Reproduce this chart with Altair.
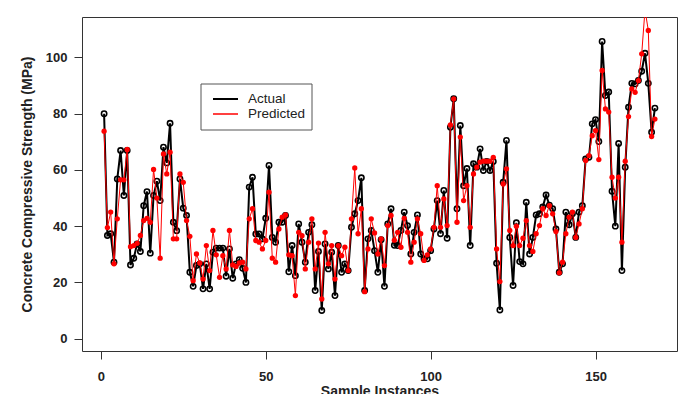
import altair as alt
import pandas as pd

# Measured and model-predicted compressive strength (MPa) per test sample
actual = [
    80.0, 36.7, 37.3, 27.2, 56.8, 66.9, 50.9, 66.9, 26.2, 28.6,
    33.7, 31.0, 47.3, 52.3, 30.4, 50.9, 56.0, 49.1, 68.1, 62.5,
    76.6, 41.4, 38.4, 56.8, 46.4, 43.8, 23.6, 18.6, 26.0, 26.6,
    17.7, 26.6, 17.7, 30.7, 32.2, 32.2, 32.2, 22.2, 31.9, 21.5,
    26.6, 28.1, 25.0, 20.0, 53.9, 57.4, 37.2, 37.2, 35.5, 42.8,
    61.6, 36.0, 34.3, 41.4, 41.4, 43.8, 23.8, 33.1, 22.4, 40.8,
    34.3, 27.2, 37.8, 40.5, 17.1, 31.0, 10.0, 33.7, 24.8, 30.7,
    15.3, 33.1, 23.6, 26.6, 24.2, 39.6, 44.4, 49.1, 57.2, 17.1,
    35.5, 38.5, 31.3, 23.6, 35.2, 18.6, 40.8, 46.2, 33.2, 33.1,
    38.5, 45.0, 40.2, 30.1, 37.8, 44.0, 30.1, 28.4, 28.4, 31.3,
    39.0, 49.1, 37.3, 52.7, 35.7, 75.2, 85.3, 46.2, 75.8, 54.4,
    60.5, 33.1, 62.2, 61.0, 67.5, 59.8, 63.0, 59.8, 63.0, 26.8,
    10.2, 55.6, 70.5, 36.0, 18.9, 41.2, 27.4, 26.6, 48.5, 30.1,
    36.0, 44.0, 44.4, 46.8, 51.1, 47.5, 46.2, 39.0, 23.6, 26.6,
    45.0, 40.5, 44.4, 36.0, 45.0, 47.3, 63.9, 64.5, 76.4, 77.9,
    70.1, 105.7, 86.5, 87.7, 52.4, 40.0, 69.4, 24.2, 61.0, 82.3,
    90.8, 90.6, 91.8, 95.1, 101.5, 90.8, 73.4, 82.0,
]
predicted = [
    73.8, 39.5, 45.0, 26.6, 42.6, 56.5, 56.5, 67.3, 32.7, 33.1,
    33.9, 36.7, 42.0, 42.8, 41.4, 60.2, 50.0, 28.6, 65.7, 58.6,
    66.3, 35.5, 35.5, 58.6, 55.6, 42.0, 36.4, 20.6, 30.1, 26.9,
    21.2, 33.1, 24.2, 38.5, 29.8, 21.8, 29.5, 24.8, 38.5, 26.2,
    25.7, 26.9, 27.2, 24.8, 42.6, 46.2, 34.9, 34.3, 31.9, 34.9,
    52.1, 28.6, 27.2, 39.0, 43.2, 44.0, 29.8, 29.5, 15.3, 37.8,
    36.6, 24.8, 34.3, 42.6, 24.8, 34.0, 14.1, 37.8, 26.6, 33.1,
    21.2, 33.1, 29.5, 32.5, 24.2, 42.6, 60.7, 37.3, 46.2, 16.7,
    31.9, 42.6, 37.6, 30.1, 35.5, 26.0, 40.2, 43.8, 35.0, 37.8,
    32.5, 42.8, 37.8, 27.2, 34.3, 42.6, 37.3, 27.8, 29.8, 31.9,
    39.6, 54.4, 39.6, 49.7, 40.2, 76.0, 85.3, 41.4, 71.7, 49.1,
    54.4, 39.6, 58.6, 61.0, 62.8, 63.1, 63.1, 63.1, 64.5, 31.9,
    20.3, 55.0, 60.4, 38.5, 33.1, 40.0, 33.1, 35.7, 42.0, 33.1,
    31.0, 37.3, 40.2, 46.2, 43.8, 47.3, 44.4, 38.1, 23.4, 27.2,
    37.3, 43.2, 45.0, 36.0, 40.8, 46.2, 63.4, 65.1, 72.2, 74.0,
    63.7, 95.4, 81.7, 80.6, 57.4, 50.0, 57.4, 34.3, 63.1, 79.0,
    88.8, 87.6, 91.8, 101.3, 117.0, 109.6, 71.9, 78.1,
]
x_ticks = [0, 50, 100, 150]
y_ticks = [0, 20, 40, 60, 80, 100]
series = ["Actual", "Predicted"]
colors = ["#000000", "#ff0000"]

n = len(actual)
samples = list(range(1, n + 1))
df_act = pd.DataFrame({"Sample": samples, "Value": actual, "Series": "Actual"})
df_pred = pd.DataFrame({"Sample": samples, "Value": predicted, "Series": "Predicted"})
df_key = pd.DataFrame({"Series": series})

FONT = "Liberation Sans"

x_enc = alt.X(
    "Sample:Q",
    scale=alt.Scale(domain=[-5.7, 174.7], nice=False, zero=False),
    axis=alt.Axis(values=x_ticks, title="Sample Instances", format="d",
                  titleBaseline="top", titleY=33, labelPadding=11),
)
y_enc = alt.Y(
    "Value:Q",
    scale=alt.Scale(domain=[-4.4, 114.4], nice=False, zero=False),
    axis=alt.Axis(values=y_ticks, title="Concrete Compressive Strength (MPa)",
                  titleBaseline="middle", titleX=-55, labelPadding=7),
)
color_scale = alt.Scale(domain=series, range=colors)

line_act = alt.Chart(df_act).mark_line(strokeWidth=2, color="#000000", clip=True).encode(
    x=x_enc, y=y_enc
)
pts_act = alt.Chart(df_act).mark_point(
    shape="circle", filled=False, color="#000000", size=28, strokeWidth=1.6,
    opacity=1, clip=True,
).encode(x="Sample:Q", y="Value:Q")
line_pred = alt.Chart(df_pred).mark_line(strokeWidth=1, color="#ff0000", clip=True).encode(
    x="Sample:Q", y="Value:Q"
)
pts_pred = alt.Chart(df_pred).mark_circle(
    color="#ff0000", size=28, opacity=1, clip=True
).encode(x="Sample:Q", y="Value:Q")

# Legend box with a line sample and label for each series
key_box = alt.Chart(df_key).transform_aggregate(count="count()").mark_rect(
    fill="white", stroke="#555555", strokeWidth=1
).encode(x=alt.value(119), x2=alt.value(230), y=alt.value(67), y2=alt.value(113))

key_layers = [key_box]
for i, (name, width) in enumerate(zip(series, [2, 1.5])):
    row_y = 82 + 15 * i
    base = alt.Chart(df_key).transform_filter(alt.datum.Series == name)
    key_layers.append(
        base.mark_rule(strokeWidth=width).encode(
            x=alt.value(131), x2=alt.value(156), y=alt.value(row_y),
            color=alt.Color("Series:N", scale=color_scale, legend=None),
        )
    )
    key_layers.append(
        base.mark_text(
            align="left", baseline="middle", font=FONT, fontSize=13.5, color="#222222"
        ).encode(x=alt.value(166), y=alt.value(row_y), text="Series:N")
    )

chart = (
    alt.layer(line_act, pts_act, line_pred, pts_pred, *key_layers)
    .properties(
        width=595,
        height=334,
        autosize=alt.AutoSizeParams(type="none"),
        padding={"left": 82, "top": 17, "right": 2, "bottom": 43},
        background="white",
    )
    .configure_view(stroke="#333333", strokeWidth=1)
    .configure_axis(
        labelFont=FONT,
        labelFontSize=13,
        labelFontWeight="bold",
        labelColor="#222222",
        titleFont=FONT,
        titleFontSize=14,
        titleFontWeight="bold",
        titleColor="#222222",
        tickColor="#333333",
        tickSize=8,
        domain=False,
        grid=False,
    )
)

chart.save("out.html", embed_options={"renderer": "svg", "actions": False})
